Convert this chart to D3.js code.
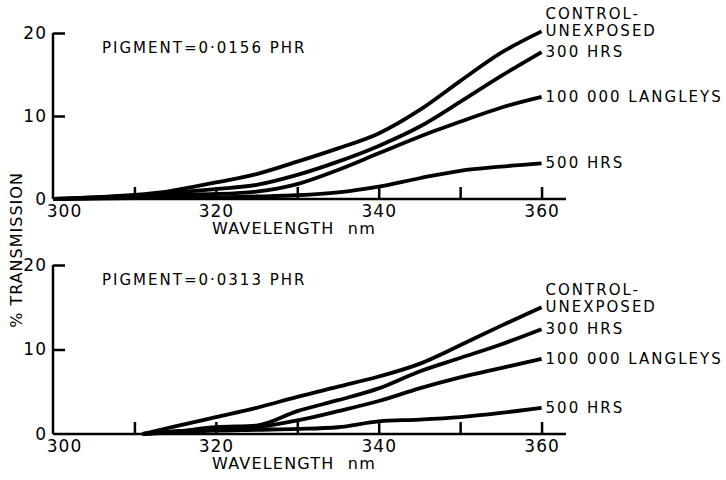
<!DOCTYPE html>
<html>
<head>
<meta charset="utf-8">
<script src="https://cdn.jsdelivr.net/npm/d3@7"></script>
<style>
  body { margin: 0; background: #fff; }
  text { font-family: "DejaVu Sans", sans-serif; fill: #000; }
</style>
</head>
<body>
<div id="chart"></div>
<script>
// wavelengths (nm) and % transmission
const wlTop = [300, 305, 310, 314, 320, 325, 330, 335, 340, 345, 350, 355, 360];
const controlTop = [0, 0.2, 0.5, 0.9, 2.0, 3.0, 4.5, 6.1, 7.9, 10.7, 14.2, 17.6, 20.2];
const hrs300Top = [0, 0.2, 0.4, 0.7, 1.2, 1.7, 2.9, 4.5, 6.4, 8.7, 11.7, 14.8, 17.7];
const langleysTop = [0, 0.1, 0.3, 0.5, 0.6, 0.9, 1.8, 3.5, 5.5, 7.5, 9.3, 11.0, 12.3];
const hrs500Top = [0, 0.05, 0.1, 0.15, 0.2, 0.3, 0.45, 0.8, 1.5, 2.5, 3.4, 3.9, 4.3];

const wlBot = [311, 315, 320, 325, 330, 335, 340, 345, 350, 355, 360];
const controlBot = [0, 0.9, 2.0, 3.1, 4.4, 5.6, 6.8, 8.3, 10.5, 12.8, 15.0];
const hrs300Bot = [0, 0.3, 0.8, 1.0, 2.7, 4.0, 5.4, 7.4, 9.0, 10.6, 12.4];
const langleysBot = [0, 0.3, 0.5, 0.8, 1.6, 2.7, 3.9, 5.4, 6.7, 7.8, 8.9];
const hrs500Bot = [0, 0.2, 0.4, 0.5, 0.6, 0.8, 1.5, 1.7, 2.0, 2.5, 3.1];

const seriesNames = [["CONTROL-", "UNEXPOSED"], ["300 HRS"], ["100 000 LANGLEYS"], ["500 HRS"]];
const xTicks = [300, 310, 320, 330, 340, 350, 360];
const yTicks = [0, 10, 20];
const pigments = ["PIGMENT=0·0156 PHR", "PIGMENT=0·0313 PHR"];

const width = 726, height = 480;

var svg = d3.select("#chart").append("svg")
  .attr("width", width)
  .attr("height", height);

function panel(wl, series, pigment, top, bottom) {
  var x = d3.scaleLinear().domain([300, 363]).range([53, 566]);
  var y = d3.scaleLinear().domain([0, 20]).range([bottom, top]);
  var g = svg.append("g");

  // x axis: ticks point up, labels only on every other tick
  var xa = g.append("g")
    .attr("transform", "translate(0," + bottom + ")")
    .call(d3.axisBottom(x).tickValues(xTicks).tickSize(-12).tickPadding(6)
      .tickFormat(d => d % 20 === 0 ? d : ""));
  xa.select(".domain").attr("d", "M53,0H566");
  xa.selectAll(".tick").filter(d => d === 300).select("line").remove();
  xa.selectAll(".tick").filter(d => d === 300).select("text").attr("dx", 11);

  // y axis
  var ya = g.append("g")
    .attr("transform", "translate(" + x(300) + ",0)")
    .call(d3.axisLeft(y).tickValues(yTicks).tickSize(-12).tickPadding(6));
  ya.select(".domain").attr("d", "M0," + bottom + "V" + top);
  ya.selectAll(".tick").filter(d => d === 0).select("line").remove();

  g.selectAll(".domain, .tick line").attr("stroke", "#000").attr("stroke-width", 2.5);
  g.selectAll(".tick text")
    .attr("font-size", 17)
    .attr("letter-spacing", 1)
    .attr("fill", "#000")
    .style("font-family", "DejaVu Sans");

  var line = d3.line()
    .x((d, i) => x(wl[i]))
    .y(d => y(d))
    .curve(d3.curveMonotoneX);

  g.selectAll(".curve")
    .data(series)
    .enter().append("path")
    .attr("class", "curve")
    .attr("d", d => line(d))
    .attr("fill", "none")
    .attr("stroke", "#000")
    .attr("stroke-width", 3.8)
    .attr("stroke-linejoin", "round");

  // curve labels at the line ends
  series.forEach((s, i) => {
    var yEnd = y(s[s.length - 1]);
    var names = seriesNames[i];
    names.forEach((n, j) => {
      g.append("text")
        .attr("x", x(360) + 4)
        .attr("y", yEnd + 5 - (names.length - 1 - j) * 17)
        .attr("font-size", 15)
        .attr("letter-spacing", 2)
        .text(n);
    });
  });

  g.append("text")
    .attr("x", 102)
    .attr("y", top + 20)
    .attr("font-size", 15)
    .attr("letter-spacing", 2)
    .text(pigment);

  g.append("text")
    .attr("x", 212)
    .attr("y", bottom + 35)
    .attr("font-size", 16)
    .attr("letter-spacing", 1.2)
    .attr("word-spacing", 7)
    .text("WAVELENGTH nm");
}

panel(wlTop, [controlTop, hrs300Top, langleysTop, hrs500Top], pigments[0], 33, 199);
panel(wlBot, [controlBot, hrs300Bot, langleysBot, hrs500Bot], pigments[1], 265, 434);

svg.append("text")
  .attr("transform", "translate(22,250) rotate(-90)")
  .attr("text-anchor", "middle")
  .attr("font-size", 16)
  .attr("letter-spacing", 1)
  .text("% TRANSMISSION");
</script>
</body>
</html>
